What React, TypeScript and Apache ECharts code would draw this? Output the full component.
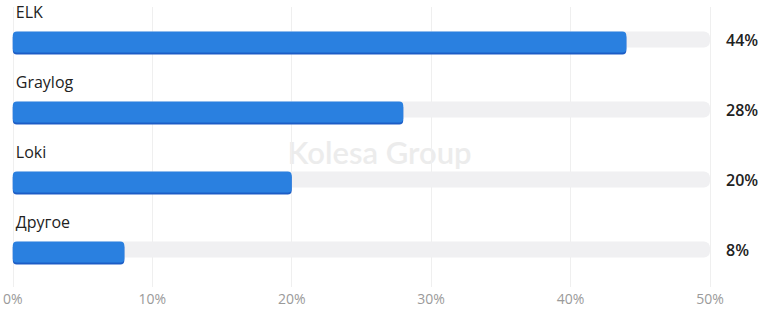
import React, { useEffect, useRef } from "react";
import * as echarts from "echarts";

const categories = ["ELK", "Graylog", "Loki", "Другое"];
const values = [44, 28, 20, 8];
const maxValue = 50;
const tickLabels = ["0%", "10%", "20%", "30%", "40%", "50%"];

export default function App() {
  const ref = useRef<HTMLDivElement>(null);
  useEffect(() => {
    document.body.style.margin = "0";
    if (!ref.current) return;
    const chart = echarts.init(ref.current, null, { renderer: "svg" });
    chart.setOption({
      animation: false,
      textStyle: { fontFamily: "Open Sans" },
      grid: { left: 10, right: 49, top: 7, bottom: 26, containLabel: false },
      graphic: [
        {
          type: "text",
          left: "center",
          top: 136,
          z: 0,
          style: {
            text: "Kolesa Group",
            fontSize: 31,
            fontWeight: 600,
            fontFamily: "Lato",
            fill: "#ececec",
          },
        },
      ],
      xAxis: {
        type: "value",
        min: 0,
        max: maxValue,
        interval: 10,
        axisLine: { show: false },
        axisTick: { show: false },
        splitLine: { lineStyle: { color: "#efefef" } },
        axisLabel: {
          color: "#9a9a9a",
          fontSize: 14,
          margin: 4,
          formatter: (v: number) => tickLabels[Math.round(v / 10)],
        },
      },
      yAxis: {
        type: "category",
        data: categories,
        inverse: true,
        axisLine: { show: false },
        axisTick: { show: false },
        axisLabel: { show: false },
      },
      series: [
        {
          type: "bar",
          data: categories.map(() => maxValue),
          barWidth: 16,
          barGap: "-100%",
          silent: true,
          itemStyle: { color: "#f0f0f2", borderRadius: 6 },
          label: {
            show: true,
            position: "right",
            distance: 16,
            fontSize: 16,
            fontWeight: 600,
            color: "#222",
            formatter: (p: any) => values[p.dataIndex] + "%",
          },
          z: 1,
        },
        {
          type: "bar",
          data: values,
          barWidth: 21,
          itemStyle: {
            color: "#2b80e0",
            borderRadius: 4,
            shadowColor: "#1a5dc6",
            shadowOffsetY: 2,
            shadowBlur: 0,
          },
          label: {
            show: true,
            position: [3, -20],
            align: "left",
            verticalAlign: "middle",
            fontSize: 16,
            color: "#222",
            formatter: (p: any) => categories[p.dataIndex],
          },
          z: 2,
        },
      ],
    });
    return () => chart.dispose();
  }, []);
  return <div ref={ref} style={{ width: 759, height: 313 }} />;
}
